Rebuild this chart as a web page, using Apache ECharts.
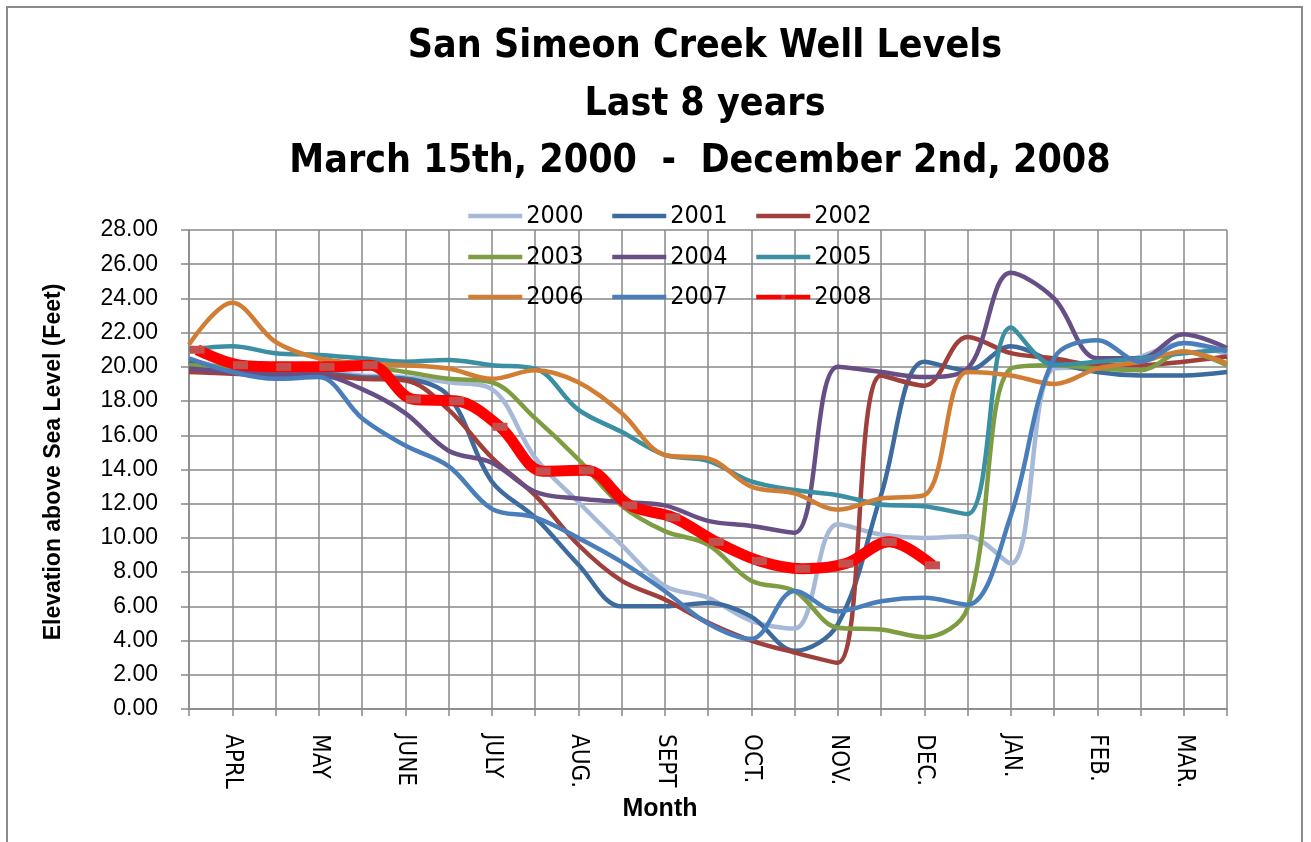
<!DOCTYPE html>
<html><head><meta charset="utf-8">
<script src="https://cdn.jsdelivr.net/npm/echarts@6/dist/echarts.min.js"></script>
<style>html,body{margin:0;padding:0;background:#fff}#c{width:1311px;height:842px}</style>
</head><body><div id="c"></div>
<script>
// ---- data ----
const monthLabels = ['APRL','MAY','JUNE','JULY','AUG.','SEPT','OCT.','NOV.','DEC.','JAN.','FEB.','MAR.'];
const years = ['2000','2001','2002','2003','2004','2005','2006','2007','2008'];
// half-month readings starting March 15
const v2000 = [20.4,19.9,19.7,19.7,19.5,19.4,19.1,18.7,14.7,12.1,9.6,7.2,6.5,5.15,4.7,10.8,10.2,10.0,10.1,8.5,19.9,20.0,20.6,21.4,20.7];
const v2001 = [20.3,19.8,19.6,19.6,19.4,19.3,18.3,13.3,11.2,8.45,6.0,6.0,6.2,5.4,3.4,4.95,12.5,20.3,19.8,21.2,20.3,19.7,19.5,19.5,19.7];
const v2002 = [19.7,19.6,19.5,19.5,19.3,19.2,17.5,14.7,12.5,9.6,7.5,6.4,5.05,4.0,3.3,2.7,19.5,18.9,21.75,20.8,20.5,20.1,20.1,20.3,20.6];
const v2003 = [20.1,20.0,19.9,20.0,20.0,19.7,19.3,19.1,17.0,14.6,11.9,10.4,9.6,7.5,6.9,4.75,4.65,4.2,5.9,19.9,20.1,19.9,19.8,20.9,20.1];
const v2004 = [19.9,19.7,19.5,19.5,18.7,17.3,15.1,14.4,12.7,12.3,12.1,11.9,11.0,10.7,10.3,20.0,19.7,19.4,19.9,25.5,24.0,20.5,20.5,21.9,21.1];
const v2005 = [21.0,21.2,20.8,20.7,20.5,20.3,20.4,20.1,19.9,17.5,16.2,14.85,14.5,13.3,12.8,12.5,11.95,11.85,11.4,22.3,20.1,20.3,20.5,20.8,21.0];
const v2006 = [21.3,23.75,21.46,20.5,20.2,20.1,19.9,19.3,19.8,19.1,17.3,14.85,14.65,13.0,12.6,11.65,12.3,12.5,19.7,19.5,19.0,19.9,20.3,20.9,20.2];
const v2007 = [20.5,19.7,19.3,19.4,17.0,15.4,14.2,11.7,11.2,10.0,8.6,6.9,5.0,4.1,6.9,5.7,6.3,6.5,6.1,11.3,20.5,21.55,20.3,21.4,20.9];
const v2008 = [21.0,20.1,20.0,20.0,20.1,18.1,18.0,16.5,13.9,13.95,11.9,11.2,9.77,8.65,8.2,8.5,9.77,8.4];
// 2008 readings were taken a few days after the half-month marks (fraction of a half-month)
const LAG_2008 = 0.19;
const values = [v2000,v2001,v2002,v2003,v2004,v2005,v2006,v2007,v2008];

// ---- styles ----
const colors = ['#A7B9D9','#3D6A9F','#A0403C','#7E9C42','#674F86','#3A8FA3','#D17E34','#4A7EBB','#FF0000'];

function hasFont(f){
  const ctx = document.createElement('canvas').getContext('2d');
  const t = 'mmmmmmmmmmlli1WQ0123';
  ctx.font = '72px monospace'; const w1 = ctx.measureText(t).width;
  ctx.font = '72px "' + f + '", monospace'; const w2 = ctx.measureText(t).width;
  return Math.abs(w1 - w2) > 0.5;
}
const SANS = '"Liberation Sans", Arial, sans-serif';
let NARROW = null, narrowScale = 1;
if (hasFont('Liberation Sans Narrow')) { NARROW = '"Liberation Sans Narrow"'; narrowScale = 1.08; }
else if (hasFont('DejaVu Sans Condensed')) { NARROW = '"DejaVu Sans Condensed"'; narrowScale = 1; }
else { NARROW = SANS; narrowScale = 0.9; }

const chart = echarts.init(document.getElementById('c'), null, {renderer:'canvas'});
const gridColor = '#888888';

const series = years.map((y, k) => {
  const last = k === 8;
  return {
    name: y, type: 'line', smooth: 0.35,
    symbol: last ? 'rect' : 'none', symbolSize: [15, 8], showSymbol: last,
    data: values[k].map((v, i) => [i + (last ? LAG_2008 : 0), v]),
    lineStyle: { color: colors[k], width: last ? 11 : 4.5 },
    itemStyle: { color: last ? '#C4504E' : colors[k] },
    z: last ? 5 : 2, silent: true, emphasis: { disabled: true }
  };
});

const colX = [466, 610, 754];
const rowY = [202, 243, 283];
const legends = years.map((y, k) => ({
  data: [y], left: colX[k % 3], top: rowY[Math.floor(k / 3)], padding: 0,
  itemWidth: 54, itemHeight: 5, itemGap: 0, selectedMode: false,
  lineStyle: { width: 4.5 },
  textStyle: { fontFamily: NARROW, fontSize: Math.round(25 * narrowScale), color: '#000', lineHeight: 28, padding: [0,0,0,-1] }
}));

const titleFont = 'bold ' + Math.round(39 * narrowScale) + 'px ' + NARROW;
const option = {
  animation: false,
  backgroundColor: '#fff',
  grid: { left: 189, top: 230, width: 1038, height: 479 },
  legend: legends,
  xAxis: {
    type: 'value', min: 0, max: 24, interval: 1,
    axisLine: { show: true, lineStyle: { color: gridColor, width: 1.5 } },
    axisTick: { show: true, length: 7, lineStyle: { color: gridColor, width: 1.5 } },
    splitLine: { show: true, lineStyle: { color: gridColor, width: 1.5 } },
    axisLabel: {
      rotate: -90, margin: 25, color: '#000',
      fontFamily: NARROW, fontSize: Math.round(24 * narrowScale),
      formatter: v => { const i = Math.round(v); return i % 2 === 1 ? monthLabels[(i - 1) / 2] : ''; }
    }
  },
  yAxis: {
    type: 'value', min: 0, max: 28, interval: 2,
    axisLine: { show: true, lineStyle: { color: gridColor, width: 1.5 } },
    axisTick: { show: true, length: 8, lineStyle: { color: gridColor, width: 1.5 } },
    splitLine: { show: true, lineStyle: { color: gridColor, width: 1.5 } },
    axisLabel: { margin: 31, color: '#000', fontFamily: SANS, fontSize: 23, formatter: v => v.toFixed(2) }
  },
  series: series,
  graphic: [
    { type: 'rect', silent: true, z: -10, shape: { x: 7, y: 7, width: 1295, height: 900 },
      style: { fill: 'none', stroke: '#8a8a8a', lineWidth: 2 } },
    { type: 'text', x: 705, y: 47, silent: true,
      style: { text: 'San Simeon Creek Well Levels', fill: '#000', font: titleFont, textAlign: 'center', textVerticalAlign: 'middle', align: 'center', verticalAlign: 'middle' } },
    { type: 'text', x: 705, y: 105, silent: true,
      style: { text: 'Last 8 years', fill: '#000', font: titleFont, textAlign: 'center', textVerticalAlign: 'middle', align: 'center', verticalAlign: 'middle' } },
    { type: 'text', x: 700, y: 162, silent: true,
      style: { text: 'March 15th, 2000  -  December 2nd, 2008', fill: '#000', font: titleFont, textAlign: 'center', textVerticalAlign: 'middle', align: 'center', verticalAlign: 'middle' } },
    { type: 'text', x: 54, y: 462, rotation: Math.PI / 2, silent: true,
      style: { text: 'Elevation above Sea Level (Feet)', fill: '#000', font: 'bold 23px ' + SANS, textAlign: 'center', textVerticalAlign: 'middle', align: 'center', verticalAlign: 'middle' } },
    { type: 'text', x: 660, y: 809, silent: true,
      style: { text: 'Month', fill: '#000', font: 'bold 25px ' + SANS, textAlign: 'center', textVerticalAlign: 'middle', align: 'center', verticalAlign: 'middle' } }
  ]
};
chart.setOption(option);
</script></body></html>
